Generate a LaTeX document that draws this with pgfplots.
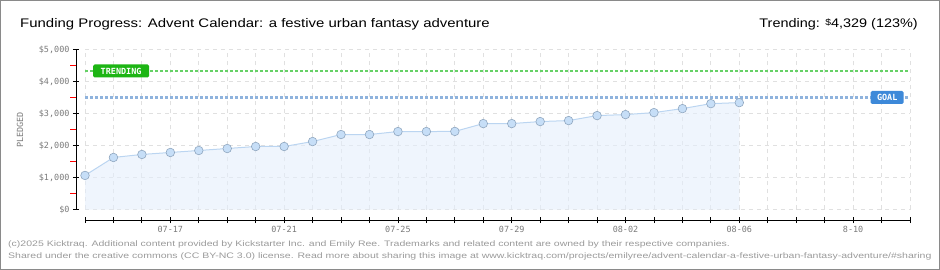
\documentclass[border=0pt]{standalone}
\usepackage{fontspec}
\setmainfont{Liberation Sans}
\newfontfamily\titlefont[FakeStretch=1.2]{Liberation Sans}
\newfontfamily\trendfont[FakeStretch=1.16]{Liberation Sans}
\newfontfamily\footfont[FakeStretch=1.32]{Liberation Sans}
\newfontfamily\pixfont{DejaVu Sans Mono}
\usepackage{pgfplots}
\pgfplotsset{compat=1.18}
\definecolor{gridc}{HTML}{E0E0E0}
\definecolor{fillc}{HTML}{E4EEFB}
\definecolor{linec}{HTML}{BBD5F1}
\definecolor{markf}{HTML}{C6DEF7}
\definecolor{markd}{HTML}{8FA6BF}
\definecolor{trendc}{HTML}{66D166}
\definecolor{trendbox}{HTML}{1DB514}
\definecolor{goalc}{HTML}{8FB3DD}
\definecolor{goalbox}{HTML}{3D89D9}
\definecolor{labc}{HTML}{7A7A7A}
\definecolor{footc}{HTML}{9A9A9A}
\definecolor{framec}{HTML}{8A8A8A}
\pgfplotstableread{
day pledged
0 1065
1 1626
2 1720
3 1782
4 1844
5 1906
6 1969
7 1969
8 2124
9 2343
10 2343
11 2436
12 2436
13 2440
14 2685
15 2685
16 2748
17 2779
18 2935
19 2966
20 3028
21 3153
22 3308
23 3340
}\pledgedata
\begin{document}
\begin{tikzpicture}
\begin{axis}[
  at={(0,0)}, anchor=south west,
  scale only axis, width=825bp, height=160bp,
  xmin=0, xmax=29, ymin=0, ymax=5000,
  axis x line=bottom, axis y line=left,
  axis line style={-, black, line width=0.8bp},
  axis x line shift=10.5bp, axis y line shift=9bp,
  xtick={3,7,11,15,19,23,27},
  xticklabels={07-17,07-21,07-25,07-29,08-02,08-06,8-10},
  minor xtick={0,...,29},
  ytick={0,1000,2000,3000,4000,5000},
  yticklabels={{\$0},{\$1,000},{\$2,000},{\$3,000},{\$4,000},{\$5,000}},
  minor ytick={500,1500,2500,3500,4500},
  xtick align=center, ytick align=center,
  major tick length=6bp, minor tick length=6bp,
  tick style={black, line width=0.8bp},
  minor y tick style={red, line width=0.8bp, xshift=-2.5bp},
  xmajorgrids, xminorgrids, ymajorgrids,
  grid style={gridc, line width=0.8bp, dash pattern=on 4bp off 4bp},
  tick label style={font=\pixfont\fontsize{8.5}{8.5}\selectfont, text=labc},
  clip=false,
]
\addplot[draw=none, fill=fillc, fill opacity=0.6] table[x=day, y=pledged] {\pledgedata} \closedcycle;
\addplot[linec, line width=1bp, mark=*, mark size=4.3bp,
  mark options={fill=markf, draw=markd, line width=0.6bp}] table[x=day, y=pledged] {\pledgedata};
\addplot[goalc, line width=2.5bp, dash pattern=on 3bp off 2bp] coordinates {(0,3500) (29,3500)};
\addplot[trendc, line width=2.5bp, dash pattern=on 3bp off 2bp] coordinates {(0,4329) (29,4329)};
\node[fill=trendbox, text=white, rounded corners=1.5bp, minimum width=56bp, minimum height=13bp, inner sep=0pt,
  font=\pixfont\bfseries\fontsize{8.5}{8.5}\selectfont] at (axis cs:1.27,4329) {TRENDING};
\node[fill=goalbox, text=white, rounded corners=1.5bp, minimum width=33bp, minimum height=13bp, inner sep=0pt,
  font=\pixfont\bfseries\fontsize{8.5}{8.5}\selectfont] at (axis cs:28.2,3500) {GOAL};
\end{axis}
\node[rotate=90, text=labc, font=\pixfont\fontsize{8.5}{8.5}\selectfont] at (-65bp,79.5bp) {PLEDGED};
\node[anchor=base west, inner sep=0pt, font=\titlefont\fontsize{12.5}{12.5}\selectfont] at (-65bp,182.2bp)
  {Funding Progress: Advent Calendar: a festive urban fantasy adventure};
\node[anchor=base east, inner sep=0pt, font=\trendfont\fontsize{12.5}{12.5}\selectfont] at (833bp,182.2bp)
  {Trending: \raisebox{2bp}{\fontsize{9}{9}\selectfont\$}4,329 (123\%)};
\node[anchor=base west, inner sep=0pt, text=footc, font=\footfont\fontsize{8}{8}\selectfont] at (-77bp,-37.2bp)
  {(c)2025 Kicktraq. Additional content provided by Kickstarter Inc. and Emily Ree. Trademarks and related content are owned by their respective companies.};
\node[anchor=base west, inner sep=0pt, text=footc, font=\footfont\fontsize{8}{8}\selectfont] at (-77bp,-49.2bp)
  {Shared under the creative commons (CC BY-NC 3.0) license. Read more about sharing this image at www.kicktraq.com/projects/emilyree/advent-calendar-a-festive-urban-fantasy-adventure/\#sharing};
\draw[framec, line width=1bp] (-84.5bp,-60bp) rectangle (854.5bp,209bp);
\pgfresetboundingbox
\path[use as bounding box] (-85bp,-60.5bp) rectangle (855bp,209.5bp);
\end{tikzpicture}
\end{document}
